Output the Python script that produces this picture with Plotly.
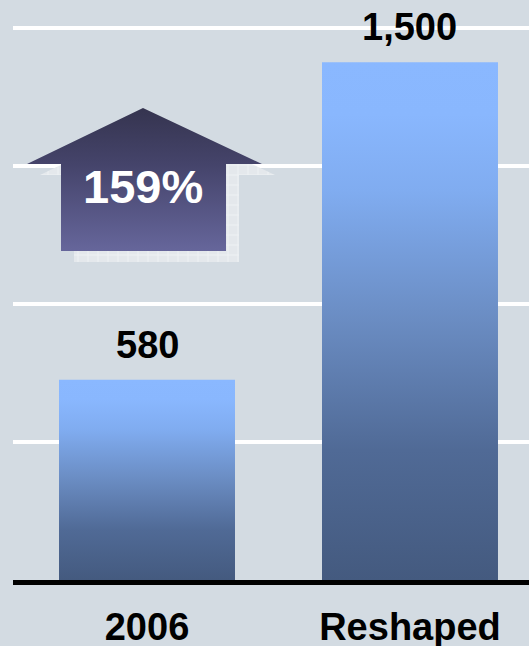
import plotly.graph_objects as go

# Data
categories = ["2006", "Reshaped"]
values = [580, 1500]
value_labels = ["580", "1,500"]
growth_label = "159%"
grid_values = [400, 800, 1200, 1600]

BG = "#d3dbe2"
FONT = "Liberation Sans, Arial, sans-serif"
BAR_SCALE = [[0.0, "#445a7f"], [0.25, "#506a96"], [0.5, "#6a8cc2"],
             [0.75, "#80acf0"], [0.9, "#89b7fe"], [1.0, "#8ab8ff"]]
HALF_W = 0.3346

fig = go.Figure()

# Bars as filled rectangles so each can carry a vertical gradient
for i, (cat, v) in enumerate(zip(categories, values)):
    fig.add_trace(go.Scatter(
        x=[i - HALF_W, i + HALF_W, i + HALF_W, i - HALF_W, i - HALF_W],
        y=[0, 0, v, v, 0],
        mode="lines", line=dict(width=0), fill="toself",
        fillgradient=dict(type="vertical", colorscale=BAR_SCALE, start=0, stop=v),
        hoverinfo="skip", showlegend=False,
    ))

# Value labels above the bars
for i, (v, lab) in enumerate(zip(values, value_labels)):
    fig.add_annotation(x=i, y=v, text=lab, showarrow=False, yanchor="middle",
                       yshift=35, font=dict(family=FONT, size=38, color="black",
                                            weight="bold"))

# Growth arrow drawn on a pixel-space overlay (x: 13..529, y: 0..580 downward)
def arrow_path(dx=0, dy=0):
    xs = [27, 143, 262, 226, 226, 61, 61, 27]
    ys = [164, 108, 164, 164, 251, 251, 164, 164]
    return [x + dx for x in xs], [y + dy for y in ys]

sx, sy = arrow_path(13, 11)
fig.add_trace(go.Scatter(
    x=sx, y=sy, xaxis="x2", yaxis="y2", mode="lines", line=dict(width=0),
    fill="toself", fillcolor="#e4e8ec",
    fillpattern=dict(shape="+", bgcolor="#e4e8ec", fgcolor="#ffffff",
                     size=10, solidity=0.15),
    hoverinfo="skip", showlegend=False,
))
ax_, ay_ = arrow_path()
fig.add_trace(go.Scatter(
    x=ax_, y=ay_, xaxis="x2", yaxis="y2", mode="lines", line=dict(width=0),
    fill="toself",
    fillgradient=dict(type="vertical", start=108, stop=251,
                      colorscale=[[0, "#35344f"], [0.4, "#45446b"],
                                  [1, "#66669b"]]),
    hoverinfo="skip", showlegend=False,
))
fig.add_annotation(x=143, y=186, xref="x2", yref="y2", text=growth_label,
                   showarrow=False, font=dict(family=FONT, size=47, color="white",
                                              weight="bold"))

fig.update_layout(
    width=529, height=646,
    margin=dict(l=13, r=0, t=0, b=66, autoexpand=False),
    paper_bgcolor=BG, plot_bgcolor=BG,
    xaxis=dict(range=[-0.5095, 1.4525], tickvals=[0, 1], ticktext=categories,
               showgrid=False, zeroline=False, showline=True, linecolor="black",
               linewidth=5, ticks="", ticklabelstandoff=9, automargin=False,
               tickfont=dict(family=FONT, size=38, color="black", weight="bold")),
    yaxis=dict(range=[0, 1680], tickvals=grid_values, showticklabels=False,
               showgrid=True, gridcolor="white", gridwidth=4, zeroline=False,
               showline=False, automargin=False),
    xaxis2=dict(range=[13, 529], overlaying="x", visible=False),
    yaxis2=dict(range=[580, 0], overlaying="y", visible=False),
)

fig.write_html("out.html")
